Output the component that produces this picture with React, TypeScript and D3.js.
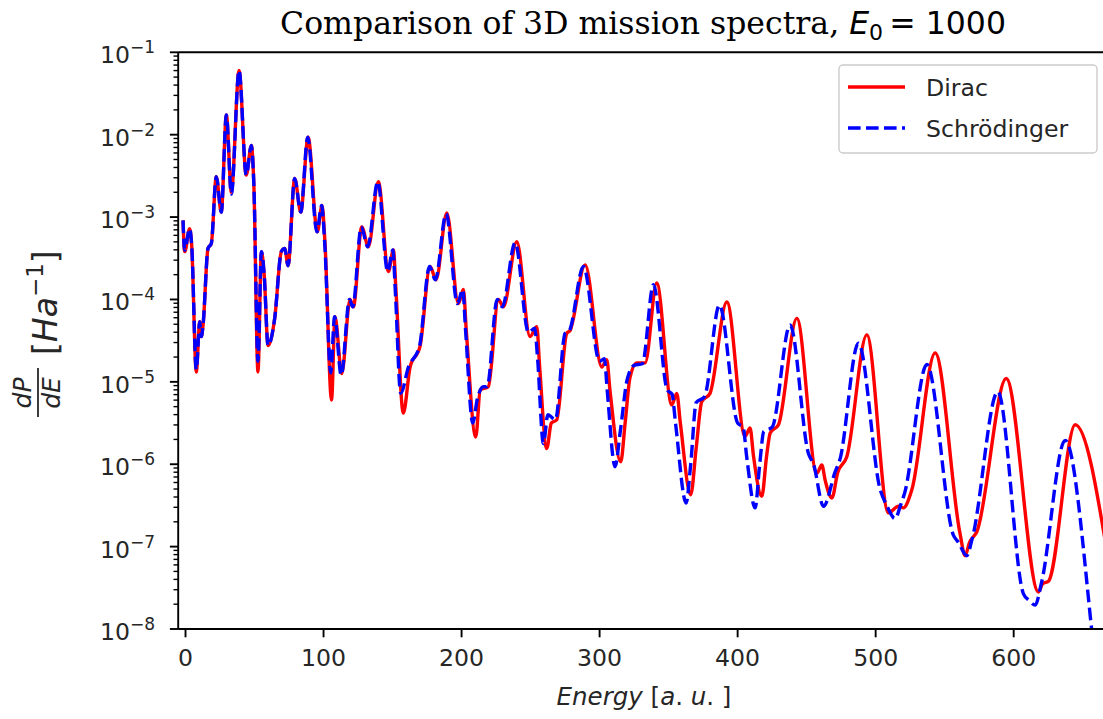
import React from "react";
import * as d3 from "d3";

// ---- Data (energy in a.u., log10 of dP/dE) ----
const energyDirac = [
  -1.8, -0.6, 3, 4.5, 7.8, 10.3, 11.5, 12.7, 16.3, 18.7, 22.3, 25.9, 29.6, 33.2, 38.8, 44, 47.7, 49.5, 52.5, 55, 57,
  59.8, 64.6, 69.4, 71.9, 74.3, 79.1, 83.5, 88.8, 95.5, 98.9, 101, 105.8, 108.3, 113.2, 119.2, 121.6, 127.7, 132.5,
  139.7, 147, 150.6, 152.5, 157.8, 162.7, 169.9, 177.2, 181.5, 189.3, 197.7, 201.3, 203.5, 210.3, 213.5, 219.4,
  226.7, 230.3, 240, 249.6, 254.5, 256.5, 261.7, 265, 269, 276.2, 278.5, 289.5, 301.6, 305.2, 307.5, 315.3, 318.5,
  322, 327, 333, 341.4, 352.3, 355.9, 358.5, 366, 370, 374, 380, 392.2, 405.4, 409, 411.5, 417.5, 421, 423.6, 429.6,
  442.9, 457.4, 461, 463.5, 468.3, 472.5, 479.1, 493.6, 509.3, 516.5, 520.1, 526.2, 543.1, 561, 564.8, 568, 573.3,
  594.6, 618, 621, 625.2, 644.6, 668,
];
const logDirac = [
  -3.04, -3.42, -3.14, -3.35, -4.88, -4.27, -4.45, -4.31, -3.38, -3.32, -2.51, -2.94, -1.76, -2.7, -1.22, -2.49, -2.13,
  -2.6, -4.88, -3.42, -3.7, -4.56, -4.23, -3.42, -3.38, -3.59, -2.53, -2.94, -2.03, -3.18, -2.86, -3.3, -5.22, -4.21,
  -4.9, -4.0, -4.09, -3.12, -3.36, -2.57, -3.66, -3.4, -3.9, -5.38, -4.82, -4.57, -3.6, -3.76, -2.95, -4.05, -3.88,
  -4.4, -5.67, -5.1, -5.06, -4.0, -4.09, -3.3, -4.45, -4.33, -4.8, -5.81, -5.5, -5.46, -4.41, -4.38, -3.58, -4.82,
  -4.73, -5.1, -5.97, -5.5, -4.95, -4.77, -4.77, -3.8, -5.28, -5.14, -5.5, -6.37, -5.8, -5.24, -5.14, -4.03, -5.66,
  -5.56, -5.9, -6.39, -5.9, -5.62, -5.52, -4.23, -6.11, -6.01, -6.2, -6.41, -6.1, -5.91, -4.43, -6.59, -6.51, -6.53,
  -6.31, -4.65, -6.83, -7.11, -6.95, -6.82, -4.96, -7.55, -7.45, -7.42, -5.52, -7.1,
];

const energySchrod = [
  -1.8, -0.6, 3, 4.5, 7.8, 10.3, 11.5, 12.7, 16.3, 18.7, 22.3, 25.9, 29.6, 33.2, 38.8, 44, 47.7, 49.5, 52.5, 55, 57,
  59.8, 64.6, 69.4, 71.9, 74.3, 79.1, 83.5, 88.5, 95.2, 98.6, 100.8, 105.2, 108, 112.8, 118.8, 121.2, 127.3, 132,
  139.3, 146.5, 150.2, 152, 155.9, 161.5, 169.5, 176.8, 181, 188.8, 197, 200.8, 203, 208.1, 211.5, 215.8, 218.5,
  225.8, 229.5, 238.8, 248.5, 253, 255, 259.3, 262.5, 268, 275, 278, 288.3, 300, 303.5, 305.5, 311.2, 315, 320, 325,
  331, 339, 349, 352.5, 355, 362.7, 366, 370, 376, 386.8, 400, 404, 406.5, 412.7, 416, 419, 425, 438, 451.3, 455,
  462.2, 470.7, 474, 487.5, 503.3, 508, 514.1, 518, 521, 537.1, 556.3, 560, 566, 570, 588.5, 607, 611, 615.6, 620,
  637.3, 656.5, 660,
];
const logSchrod = [
  -3.04, -3.4, -3.14, -3.35, -4.85, -4.27, -4.45, -4.31, -3.38, -3.32, -2.51, -2.94, -1.76, -2.72, -1.22, -2.49, -2.13,
  -2.6, -4.75, -3.42, -3.7, -4.56, -4.23, -3.42, -3.38, -3.59, -2.53, -2.94, -2.03, -3.18, -2.86, -3.3, -4.89, -4.21,
  -4.92, -4.0, -4.09, -3.12, -3.36, -2.57, -3.66, -3.4, -3.9, -5.14, -4.82, -4.57, -3.6, -3.76, -2.96, -4.05, -3.88,
  -4.4, -5.5, -5.2, -5.06, -5.06, -4.0, -4.09, -3.31, -4.4, -4.35, -4.7, -5.75, -5.4, -5.46, -4.41, -4.38, -3.6,
  -4.75, -4.72, -5.1, -6.03, -5.6, -4.97, -4.8, -4.78, -3.82, -5.1, -5.15, -5.5, -6.47, -6.0, -5.25, -5.18, -4.07,
  -5.5, -5.55, -5.9, -6.53, -6.0, -5.6, -5.55, -4.31, -5.87, -6.0, -6.51, -6.09, -5.95, -4.53, -6.31, -6.5, -6.66,
  -6.5, -6.35, -4.79, -6.86, -6.95, -7.11, -6.9, -5.12, -7.57, -7.65, -7.71, -7.45, -5.71, -8.01, -8.6,
];

const xTicks = [0, 100, 200, 300, 400, 500, 600];
const yExponents = [-1, -2, -3, -4, -5, -6, -7, -8];
const seriesNames = ["Dirac", "Schrödinger"];

const W = 1103;
const H = 719;
const L = 178.2;
const T = 52.3;
const B = 629;

const xScale = d3.scaleLinear().domain([-5.3, 670]).range([L, 1110.3]);
const yScale = d3.scaleLog().domain([1e-8, 1e-1]).range([B, T]);

type Pt = { e: number; v: number };
const toPts = (es: number[], ls: number[]): Pt[] => es.map((e, i) => ({ e, v: Math.pow(10, ls[i]) }));
const dirac = toPts(energyDirac, logDirac);
const schrod = toPts(energySchrod, logSchrod);

const lineGen = d3
  .line<Pt>()
  .x((d) => xScale(d.e))
  .y((d) => yScale(d.v))
  .curve(d3.curveMonotoneX);

const minorTicks: number[] = [];
for (let k = -8; k < -1; k++) {
  for (let m = 2; m <= 9; m++) minorTicks.push(m * Math.pow(10, k));
}

const SANS = "'DejaVu Sans', sans-serif";
const SERIF = "'DejaVu Serif', serif";
const TXT = "#262626";

export default function App() {
  return (
    <svg
      width={W}
      height={H}
      style={{ position: "absolute", left: 0, top: 0, background: "#fff" }}
      xmlns="http://www.w3.org/2000/svg"
    >
      <defs>
        <clipPath id="plotClip">
          <rect x={L} y={T} width={1110.3 - L} height={B - T} />
        </clipPath>
      </defs>
      <rect width={W} height={H} fill="#fff" />

      {/* Title */}
      <text x={643} y={34} textAnchor="middle" fontFamily={SERIF} fontSize={31.5} fill="#000">
        Comparison of 3D mission spectra,{" "}
        <tspan fontFamily={SANS} fontStyle="italic">E</tspan>
        <tspan fontFamily={SANS} fontSize={22} dy={6}>0</tspan>
        <tspan fontFamily={SANS} dy={-6}>{"\u2009= 1000"}</tspan>
      </text>

      {/* Curves */}
      <g clipPath="url(#plotClip)">
        <path d={lineGen(dirac) || ""} fill="none" stroke="#ff0000" strokeWidth={3.4} strokeLinejoin="round" />
        <path
          d={lineGen(schrod) || ""}
          fill="none"
          stroke="#0000ff"
          strokeWidth={3.4}
          strokeDasharray="12.6,5.4"
          strokeLinejoin="round"
        />
      </g>

      {/* Axes spines */}
      <line x1={L} y1={T} x2={W + 10} y2={T} stroke="#000" strokeWidth={1.9} />
      <line x1={L} y1={B} x2={W + 10} y2={B} stroke="#000" strokeWidth={1.9} />
      <line x1={L} y1={T} x2={L} y2={B} stroke="#000" strokeWidth={1.9} />

      {/* X ticks */}
      {xTicks.map((t) => (
        <g key={"xt" + t}>
          <line x1={xScale(t)} x2={xScale(t)} y1={B} y2={B + 8.3} stroke="#000" strokeWidth={1.9} />
          <text x={xScale(t)} y={666} textAnchor="middle" fontFamily={SANS} fontSize={23.6} fill={TXT}>
            {t}
          </text>
        </g>
      ))}

      {/* Y ticks */}
      {yExponents.map((k) => {
        const y = yScale(Math.pow(10, k));
        return (
          <g key={"yt" + k}>
            <line x1={L - 8.3} x2={L} y1={y} y2={y} stroke="#000" strokeWidth={1.9} />
            <text x={155} y={y + 11} textAnchor="end" fontFamily={SANS} fontSize={23.6} fill={TXT}>
              10
              <tspan fontSize={17} dy={-10}>{"\u2212" + Math.abs(k)}</tspan>
            </text>
          </g>
        );
      })}
      {minorTicks.map((v, i) => (
        <line key={"mt" + i} x1={L - 4.7} x2={L} y1={yScale(v)} y2={yScale(v)} stroke="#000" strokeWidth={1.4} />
      ))}

      {/* X label */}
      <text x={644} y={705} textAnchor="middle" fontFamily={SANS} fontSize={24.5} fill={TXT}>
        <tspan fontStyle="italic">Energy</tspan>
        <tspan> [</tspan>
        <tspan fontStyle="italic">a</tspan>
        <tspan>. </tspan>
        <tspan fontStyle="italic">u</tspan>
        <tspan>. ]</tspan>
      </text>

      {/* Y label */}
      <g transform="translate(38,335) rotate(-90)" fontFamily={SANS} fill={TXT}>
        <text x={-58} y={-7} textAnchor="middle" fontSize={25} fontStyle="italic">dP</text>
        <line x1={-82} x2={-33} y1={0} y2={0} stroke={TXT} strokeWidth={1.8} />
        <text x={-58} y={22} textAnchor="middle" fontSize={25} fontStyle="italic">dE</text>
        <text x={-20} y={19} fontSize={33}>
          [<tspan fontStyle="italic">Ha</tspan>
          <tspan fontSize={23} dy={-14}>{"\u22121"}</tspan>
          <tspan dy={14}>]</tspan>
        </text>
      </g>

      {/* Legend */}
      <g>
        <rect x={839} y={65} width={258} height={88} rx={4} fill="#fff" fillOpacity={0.8} stroke="#cccccc" strokeWidth={1.4} />
        <line x1={848} x2={905} y1={87} y2={87} stroke="#ff0000" strokeWidth={3.4} />
        <line x1={848} x2={905} y1={128} y2={128} stroke="#0000ff" strokeWidth={3.4} strokeDasharray="12.6,5.4" />
        <text x={926} y={95.5} fontFamily={SANS} fontSize={23.6} fill={TXT}>{seriesNames[0]}</text>
        <text x={926} y={136.5} fontFamily={SANS} fontSize={23.6} fill={TXT}>{seriesNames[1]}</text>
      </g>
    </svg>
  );
}
